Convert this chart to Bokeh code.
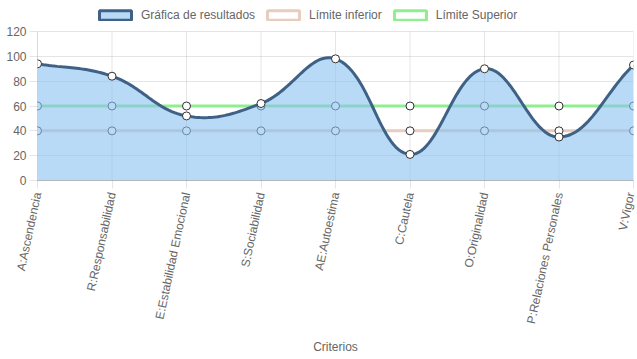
import numpy as np
from bokeh.plotting import figure
from bokeh.models import Range1d, FixedTicker, Legend, LegendItem
from bokeh.embed import file_html
from bokeh.resources import INLINE

categories = ["A:Ascendencia", "R:Responsabilidad", "E:Estabilidad Emocional",
              "S:Sociabilidad", "AE:Autoestima", "C:Cautela", "O:Originalidad",
              "P:Relaciones Personales", "V:Vigor"]
resultados = [94, 84, 52, 62, 98, 21, 90, 35, 93]
limite_inferior = [40, 40, 40, 40, 40, 40, 40, 40, 40]
limite_superior = [60, 60, 60, 60, 60, 60, 60, 60, 60]
y_ticks = [0, 20, 40, 60, 80, 100, 120]

FONT = "Liberation Sans"
TXT = "#666666"

W, H = 637, 359
BORDER_L, BORDER_R, BORDER_T, BORDER_B = 37, 4, 4, 179
FRAME_W = W - BORDER_L - BORDER_R
FRAME_H = H - BORDER_T - BORDER_B
PLOT_H = 149                      # pixel height of the 0..120 value band
Y_MAX = y_ticks[-1]
X_PX = FRAME_W / (len(categories) - 1)
Y_PX = PLOT_H / Y_MAX
Y_TOP = FRAME_H / Y_PX            # extra room above 120 for the legend


def chartjs_curve(xv, yv, tension=0.4, n=30):
    # Chart.js v2 style bezier spline computed in pixel space
    px = np.asarray(xv, float) * X_PX
    py = np.asarray(yv, float) * Y_PX
    m = len(px)
    cp_prev, cp_next = [], []
    for i in range(m):
        p0 = (px[max(i - 1, 0)], py[max(i - 1, 0)])
        p1 = (px[i], py[i])
        p2 = (px[min(i + 1, m - 1)], py[min(i + 1, m - 1)])
        d01 = np.hypot(p1[0] - p0[0], p1[1] - p0[1])
        d12 = np.hypot(p2[0] - p1[0], p2[1] - p1[1])
        s = d01 + d12
        s01 = d01 / s if s else 0
        s12 = d12 / s if s else 0
        fa, fb = tension * s01, tension * s12
        cp_prev.append((p1[0] - fa * (p2[0] - p0[0]), p1[1] - fa * (p2[1] - p0[1])))
        cp_next.append((p1[0] + fb * (p2[0] - p0[0]), p1[1] + fb * (p2[1] - p0[1])))
    xs, ys = [], []
    t = np.linspace(0, 1, n)
    for i in range(m - 1):
        P0 = np.array([px[i], py[i]])
        P1 = np.array(cp_next[i])
        P2 = np.array(cp_prev[i + 1])
        P3 = np.array([px[i + 1], py[i + 1]])
        b = ((1 - t) ** 3)[:, None] * P0 + (3 * (1 - t) ** 2 * t)[:, None] * P1 \
            + (3 * (1 - t) * t ** 2)[:, None] * P2 + (t ** 3)[:, None] * P3
        if i > 0:
            b = b[1:]
        xs.extend(b[:, 0] / X_PX)
        ys.extend(b[:, 1] / Y_PX)
    return np.array(xs), np.array(ys)


xidx = list(range(len(categories)))

p = figure(width=W, height=H, output_backend="svg", toolbar_location=None,
           x_range=Range1d(0, len(categories) - 1), y_range=Range1d(0, Y_TOP),
           min_border_left=BORDER_L, min_border_right=BORDER_R,
           min_border_top=BORDER_T, min_border_bottom=BORDER_B)
p.outline_line_color = None
p.background_fill_color = "white"

GRID_C = "rgba(0,0,0,0.1)"

# axes
p.xaxis.ticker = FixedTicker(ticks=xidx)
p.xaxis.major_label_overrides = {i: c for i, c in enumerate(categories)}
p.xaxis.major_label_orientation = 1.36
p.yaxis.ticker = FixedTicker(ticks=y_ticks)
p.yaxis.bounds = (0, Y_MAX)
for ax in (p.xaxis[0], p.yaxis[0]):
    ax.major_label_text_font = FONT
    ax.major_label_text_font_size = "12px"
    ax.major_label_text_color = TXT
    ax.major_tick_in = 0
    ax.major_tick_out = 8
    ax.major_tick_line_color = GRID_C
    ax.minor_tick_line_color = None
p.yaxis.major_label_standoff = 3
p.xaxis.major_label_standoff = 4
p.yaxis.axis_line_color = GRID_C
p.xaxis.axis_line_color = "rgba(0,0,0,0.25)"
p.xaxis.axis_label = "Criterios"
p.xaxis.axis_label_text_font = FONT
p.xaxis.axis_label_text_font_size = "12px"
p.xaxis.axis_label_text_font_style = "normal"
p.xaxis.axis_label_text_color = TXT
p.xaxis.axis_label_standoff = 10
p.ygrid.grid_line_color = GRID_C
p.xgrid.grid_line_color = None
# vertical grid lines limited to the 0..120 band
p.segment(x0=xidx, y0=[0] * len(xidx), x1=xidx, y1=[Y_MAX] * len(xidx),
          line_color=GRID_C, line_width=1, level="underlay")

LOW_C = "rgb(232,204,190)"
UP_C = "rgb(144,238,144)"
RES_LINE = "#3e6185"
RES_FILL = "rgb(137,193,240)"

# limit lines
p.line(xidx, limite_inferior, line_color=LOW_C, line_width=3)
p.line(xidx, limite_superior, line_color=UP_C, line_width=3)
p.scatter(xidx, limite_inferior, size=8, fill_color="white", line_color="#333333", line_width=1)
p.scatter(xidx, limite_superior, size=8, fill_color="white", line_color="#333333", line_width=1)

# results
cx, cy = chartjs_curve(xidx, resultados)
p.varea(x=cx, y1=np.zeros_like(cy), y2=cy, fill_color=RES_FILL, fill_alpha=0.6)
p.line(cx, cy, line_color=RES_LINE, line_width=3)
p.scatter(xidx, resultados, size=8, fill_color="white", line_color="#333333", line_width=1)

# legend swatches (hidden placeholder quads)
nan = [float("nan")]
r1 = p.quad(left=nan, right=nan, top=nan, bottom=nan, fill_color="rgb(184,218,246)", line_color=RES_LINE, line_width=3)
r2 = p.quad(left=nan, right=nan, top=nan, bottom=nan, fill_color="white", line_color=LOW_C, line_width=3)
r3 = p.quad(left=nan, right=nan, top=nan, bottom=nan, fill_color="white", line_color=UP_C, line_width=3)
legend = Legend(items=[LegendItem(label="Gráfica de resultados", renderers=[r1]),
                       LegendItem(label="Límite inferior", renderers=[r2]),
                       LegendItem(label="Límite Superior", renderers=[r3])],
                orientation="horizontal", location=(58, 158),
                glyph_width=40, glyph_height=12, label_standoff=6, spacing=8,
                padding=0, margin=0, border_line_alpha=0, background_fill_alpha=0,
                label_text_font=FONT, label_text_font_size="12px", label_text_color=TXT,
                label_height=12)
p.add_layout(legend, "center")

open("out.html", "w").write(file_html(p, INLINE))
